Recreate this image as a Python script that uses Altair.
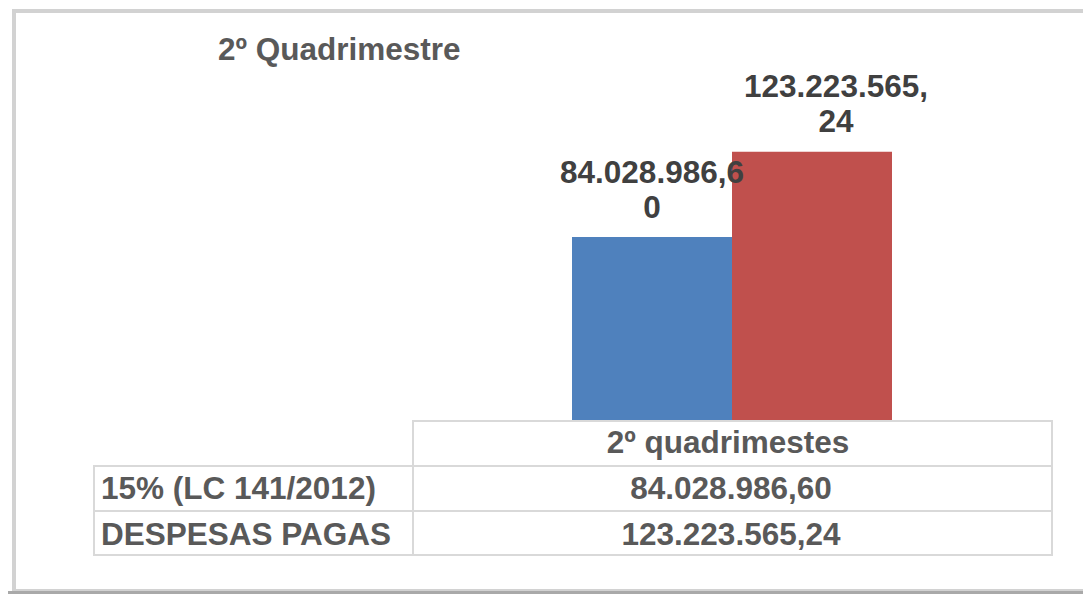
import altair as alt
import pandas as pd

# ---- data ----
title_text = "2º Quadrimestre"
series = ["15% (LC 141/2012)", "DESPESAS PAGAS"]
values = [84028986.60, 123223565.24]
bar_labels = ["84.028.986,6\n0", "123.223.565,\n24"]
column_header = "2º quadrimestes"
colors = ["#4F81BD", "#C0504D"]


def br(v):
    s = f"{v:,.2f}"
    return s.replace(",", "X").replace(".", ",").replace("X", ".")


bars_df = pd.DataFrame({"serie": series, "valor": values, "rotulo": bar_labels})
table_df = pd.DataFrame({
    "row": ["h"] + series,
    "label": [""] + series,
    "value": [column_header] + [br(v) for v in values],
})
one = pd.DataFrame({"k": [0]})

FONT = "Liberation Sans"
W, H = 1075, 586
LINE = "#d9d9d9"
TXT = "#595959"

# ---- frame ----
frame = alt.Chart(one).mark_rect(fill="white", stroke="#d2d2d2", strokeWidth=4).encode(
    x=alt.value(6), x2=alt.value(1100), y=alt.value(3), y2=alt.value(583)
)
bottom = alt.Chart(one).mark_rule(color="#a9a9a9", strokeWidth=4).encode(
    x=alt.value(0), x2=alt.value(W), y=alt.value(585)
)

# ---- bars ----
xs = alt.X("serie:N", sort=series,
           scale=alt.Scale(type="band", domain=series, range=[564, 884],
                           paddingInner=0, paddingOuter=0), axis=None)
ys = alt.Y("valor:Q", scale=alt.Scale(domain=[0, 189300000], range=[412, 0],
                                      nice=False, zero=True), axis=None)

bars = alt.Chart(bars_df).mark_bar().encode(
    x=xs, y=ys,
    color=alt.Color("serie:N", scale=alt.Scale(domain=series, range=colors), legend=None),
)

lbl_kw = dict(font=FONT, fontSize=31.5, fontWeight="bold", color="#404040",
              baseline="bottom", align="center", lineBreak="\n", lineHeight=35, dy=-47.5)
lbl_blue = alt.Chart(bars_df).transform_filter(alt.datum.serie == series[0]).mark_text(
    dx=0, **lbl_kw).encode(x=xs, y=ys, text="rotulo:N")
lbl_red = alt.Chart(bars_df).transform_filter(alt.datum.serie == series[1]).mark_text(
    dx=24, **lbl_kw).encode(x=xs, y=ys, text="rotulo:N")

# ---- title ----
title = alt.Chart(one).mark_text(font=FONT, fontSize=31.5, fontWeight="bold", color=TXT,
                                 align="left", baseline="alphabetic", text=title_text).encode(
    x=alt.value(210), y=alt.value(52)
)

# ---- table grid ----
cells = [(405, 1044, 413, 458), (86, 405, 458, 503), (405, 1044, 458, 503),
         (86, 405, 503, 547), (405, 1044, 503, 547)]
grid = [
    alt.Chart(one).mark_rect(fillOpacity=0, stroke=LINE, strokeWidth=2).encode(
        x=alt.value(a), x2=alt.value(b), y=alt.value(c), y2=alt.value(d))
    for a, b, c, d in cells
]

row_y = alt.Y("row:N", scale=alt.Scale(type="point", domain=["h"] + series,
                                       range=[445, 537], padding=0), axis=None)
tkw = dict(font=FONT, fontSize=31.5, fontWeight="bold", color=TXT, baseline="alphabetic")
header_txt = alt.Chart(table_df).transform_filter(alt.datum.row == "h").mark_text(
    align="center", **tkw).encode(x=alt.value(720), y=row_y, text="value:N")
value_txt = alt.Chart(table_df).transform_filter(alt.datum.row != "h").mark_text(
    align="center", **tkw).encode(x=alt.value(723), y=row_y, text="value:N")
label_txt = alt.Chart(table_df).transform_filter(alt.datum.row != "h").mark_text(
    align="left", **tkw).encode(x=alt.value(93), y=row_y, text="label:N")

chart = alt.layer(
    frame, bottom, bars, lbl_blue, lbl_red, title, *grid, header_txt, value_txt, label_txt
).resolve_scale(
    x="independent", y="independent", color="independent"
).properties(
    width=W, height=H, autosize=alt.AutoSizeParams(type="none"), padding=0, background="white"
).configure_view(stroke=None)

chart.save("out.html", embed_options={"renderer": "svg", "actions": False})
